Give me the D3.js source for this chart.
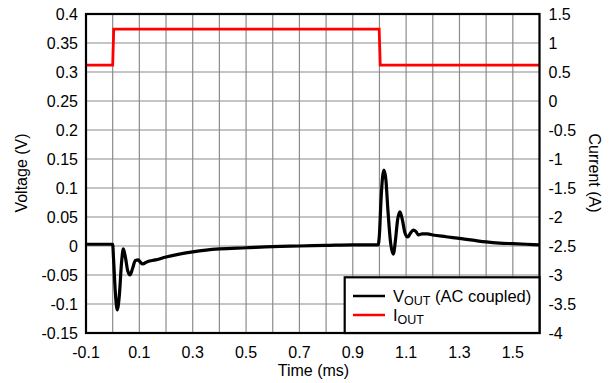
<!DOCTYPE html>
<html><head><meta charset="utf-8">
<script src="https://cdn.jsdelivr.net/npm/d3@7/dist/d3.min.js"></script>
<style>body{margin:0;background:#fff}svg{display:block}text{font-family:"Liberation Sans",Arial,sans-serif;fill:#000}</style>
</head><body><svg id="c" width="613" height="383"></svg>
<script>
const vTime = [-0.1,0.0,0.003,0.01,0.017,0.025,0.033,0.04,0.048,0.056,0.065,0.075,0.085,0.096,0.104,0.112,0.13,0.16,0.2,0.25,0.3,0.35,0.4,0.5,0.6,0.7,0.8,0.9,0.995,1.0,1.006,1.012,1.017,1.024,1.032,1.042,1.052,1.06,1.068,1.077,1.086,1.096,1.106,1.116,1.127,1.137,1.146,1.16,1.18,1.2,1.25,1.3,1.35,1.4,1.45,1.5,1.55,1.6];
const vOut = [0.003,0.003,-0.02,-0.08,-0.11,-0.085,-0.03,-0.005,-0.02,-0.042,-0.05,-0.038,-0.025,-0.024,-0.028,-0.031,-0.027,-0.024,-0.019,-0.014,-0.01,-0.007,-0.005,-0.003,-0.001,0.0,0.001,0.002,0.002,0.02,0.08,0.12,0.131,0.115,0.06,0.005,-0.014,0.01,0.045,0.059,0.045,0.022,0.0155,0.022,0.0275,0.025,0.019,0.021,0.021,0.019,0.016,0.013,0.01,0.007,0.005,0.004,0.003,0.002];
const iTime = [-0.1,0.0,0.004,0.999,1.003,1.6];
const iOut = [0.62,0.62,1.24,1.24,0.62,0.62];
const xTickLabels = [-0.1,0.1,0.3,0.5,0.7,0.9,1.1,1.3,1.5];
const xGrid = d3.range(-0.1,1.6001,0.1).map(d=>+d.toFixed(2));
const yLeftTicks = [-0.15,-0.1,-0.05,0,0.05,0.1,0.15,0.2,0.25,0.3,0.35,0.4];
const yRightTicks = [-4,-3.5,-3,-2.5,-2,-1.5,-1,-0.5,0,0.5,1,1.5];

const L=86,R=539.5,T=14,B=333;
const svg=d3.select("#c");
const x=d3.scaleLinear().domain([-0.1,1.6]).range([L,R]);
const yL=d3.scaleLinear().domain([-0.15,0.4]).range([B,T]);
const yR=d3.scaleLinear().domain([-4,1.5]).range([B,T]);

const g=svg.append("g");
g.selectAll(".vg").data(xGrid).join("line").attr("x1",d=>x(d)).attr("x2",d=>x(d)).attr("y1",T).attr("y2",B).attr("stroke","#8c8c8c").attr("stroke-width",1.2);
g.selectAll(".hg").data(yLeftTicks).join("line").attr("y1",d=>yL(d)).attr("y2",d=>yL(d)).attr("x1",L).attr("x2",R).attr("stroke","#8c8c8c").attr("stroke-width",1.2);

const lineV=d3.line().x((d,i)=>x(vTime[i])).y(d=>yL(d)).curve(d3.curveMonotoneX);
g.append("path").attr("d",lineV(vOut)).attr("fill","none").attr("stroke","#000").attr("stroke-width",3.2).attr("stroke-linejoin","round");
const lineI=d3.line().x((d,i)=>x(iTime[i])).y(d=>yR(d));
g.append("path").attr("d",lineI(iOut)).attr("fill","none").attr("stroke","#ff0000").attr("stroke-width",2.8);

g.append("rect").attr("x",L).attr("y",T).attr("width",R-L).attr("height",B-T).attr("fill","none").attr("stroke","#000").attr("stroke-width",2.2);

const fs=16;
g.selectAll(".yl").data(yLeftTicks).join("text").attr("x",L-8).attr("y",d=>yL(d)+5.5).attr("text-anchor","end").attr("font-size",fs).text(d=>d);
g.selectAll(".yr").data(yRightTicks).join("text").attr("x",R+9).attr("y",d=>yR(d)+5.5).attr("text-anchor","start").attr("font-size",fs).text(d=>d);
g.selectAll(".xl").data(xTickLabels).join("text").attr("x",d=>x(d)).attr("y",358).attr("text-anchor","middle").attr("font-size",fs).text(d=>d);

svg.append("text").attr("x",313.5).attr("y",376).attr("text-anchor","middle").attr("font-size",fs).text("Time (ms)");
svg.append("text").attr("transform","translate(27,173) rotate(-90)").attr("text-anchor","middle").attr("font-size",fs).text("Voltage (V)");
svg.append("text").attr("transform","translate(589,173) rotate(90)").attr("text-anchor","middle").attr("font-size",fs).text("Current (A)");

// legend
const lg=svg.append("g");
lg.append("rect").attr("x",344.7).attr("y",277.3).attr("width",R-344.7).attr("height",B-277.3).attr("fill","#fff").attr("stroke","#000").attr("stroke-width",2.2);
lg.append("line").attr("x1",353).attr("x2",385).attr("y1",296).attr("y2",296).attr("stroke","#000").attr("stroke-width",2.5);
lg.append("line").attr("x1",353).attr("x2",385).attr("y1",315).attr("y2",315).attr("stroke","#ff0000").attr("stroke-width",2.5);
const t1=lg.append("text").attr("x",393).attr("y",302).attr("font-size",16.5);
t1.append("tspan").text("V");
t1.append("tspan").attr("font-size",12.5).attr("dy",3).text("OUT");
t1.append("tspan").attr("dy",-3).text(" (AC coupled)");
const t2=lg.append("text").attr("x",393).attr("y",321).attr("font-size",16.5);
t2.append("tspan").text("I");
t2.append("tspan").attr("font-size",12.5).attr("dy",3).text("OUT");
</script></body></html>
